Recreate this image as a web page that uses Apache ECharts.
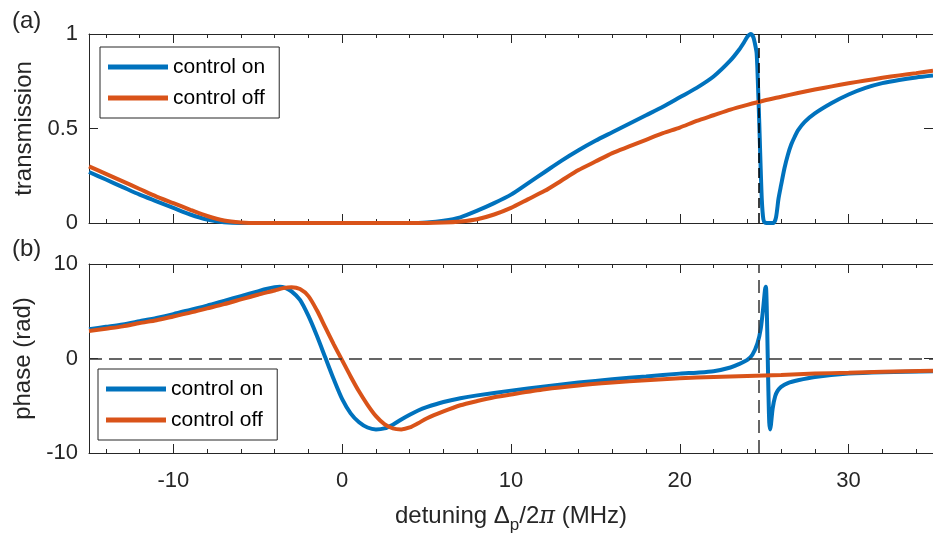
<!DOCTYPE html>
<html>
<head>
<meta charset="utf-8">
<script src="https://cdn.jsdelivr.net/npm/echarts@6.0.0/dist/echarts.min.js"></script>
<style>
  html, body { margin: 0; padding: 0; background: #fff; }
  #chart { width: 933px; height: 545px; }
</style>
</head>
<body>
<div id="chart"></div>
<script>
// values (detuning in MHz)
const transOnX = [-15, -14, -13, -12, -11, -10, -9, -8, -7, -6, -4, -2, 0, 2, 4, 5, 6, 7, 8, 9, 10, 11, 12, 13, 14, 15, 16, 17, 18, 19, 20, 21, 22, 23, 23.5, 23.8, 24.0, 24.2, 24.35, 24.45, 24.55, 24.62, 24.7, 24.78, 24.86, 24.95, 25.05, 25.3, 25.55, 25.7, 25.85, 26.0, 26.2, 26.4, 26.6, 26.8, 27.0, 27.4, 28, 29, 30, 31, 32, 33, 34, 35];
const transOnY = [0.27, 0.23, 0.19, 0.15, 0.115, 0.08, 0.045, 0.018, 0.004, 0, 0, 0, 0, 0, 0, 0.003, 0.012, 0.03, 0.065, 0.105, 0.15, 0.21, 0.27, 0.33, 0.385, 0.435, 0.48, 0.525, 0.57, 0.615, 0.665, 0.715, 0.775, 0.86, 0.915, 0.955, 0.985, 1.0, 0.985, 0.95, 0.9, 0.76, 0.55, 0.32, 0.12, 0.02, 0.002, 0, 0, 0.03, 0.13, 0.2, 0.29, 0.36, 0.415, 0.455, 0.49, 0.535, 0.58, 0.635, 0.68, 0.715, 0.74, 0.757, 0.77, 0.78];

const transOffX = [-15, -14, -13, -12, -11, -10, -9, -8, -7, -6, -5, 0, 5, 6, 7, 8, 9, 10, 11, 12, 13, 14, 15, 16, 17, 18, 19, 20, 21, 22, 23, 24, 25, 26, 27, 28, 29, 30, 31, 32, 33, 34, 35];
const transOffY = [0.30, 0.26, 0.22, 0.18, 0.14, 0.105, 0.07, 0.037, 0.013, 0.003, 0, 0, 0, 0.002, 0.008, 0.02, 0.045, 0.08, 0.125, 0.17, 0.225, 0.28, 0.325, 0.37, 0.405, 0.44, 0.475, 0.505, 0.54, 0.57, 0.6, 0.625, 0.648, 0.668, 0.688, 0.706, 0.723, 0.739, 0.754, 0.768, 0.781, 0.793, 0.805];

const phaseOnX = [-15, -14, -13, -12, -11, -10, -9, -8, -7, -6, -5, -4.5, -4, -3.7, -3.4, -3, -2.5, -2, -1.5, -1, -0.5, 0, 0.5, 1, 1.5, 2, 2.5, 3, 3.5, 4, 4.5, 5, 6, 7, 8, 10, 12, 14, 16, 18, 20, 21, 22, 23, 23.5, 24, 24.3, 24.6, 24.8, 24.95, 25.05, 25.1, 25.15, 25.2, 25.25, 25.3, 25.35, 25.4, 25.5, 25.65, 25.8, 26, 26.4, 27, 28, 30, 32, 35];
const phaseOnY = [3.1, 3.35, 3.6, 3.95, 4.3, 4.7, 5.15, 5.6, 6.1, 6.6, 7.1, 7.35, 7.55, 7.6, 7.5, 7.1, 6.2, 4.5, 2.4, 0.1, -2.2, -4.3, -5.8, -6.75, -7.3, -7.5, -7.4, -7.0, -6.45, -5.95, -5.5, -5.15, -4.6, -4.2, -3.9, -3.4, -2.95, -2.55, -2.2, -1.9, -1.6, -1.5, -1.35, -0.95, -0.6, -0.15, 0.4, 1.6, 3.2, 5.5, 7.3, 7.6, 5.5, 1.0, -3.5, -6.8, -7.5, -7.0, -5.3, -4.0, -3.4, -3.0, -2.6, -2.3, -1.95, -1.6, -1.45, -1.35];

const phaseOffX = [-15, -14, -13, -12, -11, -10, -9, -8, -7, -6, -5, -4, -3.5, -3, -2.5, -2, -1.5, -1, -0.5, 0, 0.5, 1, 1.5, 2, 2.5, 3, 3.5, 4, 4.5, 5, 6, 7, 8, 9, 10, 12, 14, 16, 18, 20, 22, 24, 26, 28, 30, 32, 35];
const phaseOffY = [2.9, 3.15, 3.4, 3.75, 4.05, 4.45, 4.85, 5.3, 5.75, 6.25, 6.75, 7.2, 7.45, 7.55, 7.35, 6.6, 5.1, 3.3, 1.5, -0.2, -1.9, -3.5, -4.9, -6.1, -6.95, -7.4, -7.5, -7.3, -6.85, -6.35, -5.6, -4.95, -4.5, -4.1, -3.8, -3.25, -2.85, -2.55, -2.3, -2.1, -1.95, -1.85, -1.75, -1.6, -1.5, -1.4, -1.3];

const resonanceX = 24.7;   // vertical dashed marker
const seriesNames = ['control on', 'control off'];

const BLUE = '#0072BD';
const ORANGE = '#D95319';
const AXIS = '#262626';
const FONT = '"Liberation Sans", Arial, Helvetica, sans-serif';

const zip = (xs, ys) => xs.map((x, i) => [x, ys[i]]);

function xAxisFor(gridIndex, position, showLabels) {
    return {
        type: 'value', gridIndex, position, min: -15, max: 35, splitNumber: 5,
        axisLine: { show: true, onZero: false, lineStyle: { color: AXIS, width: 1 } },
        axisTick: { show: true, inside: true, length: 9, lineStyle: { color: AXIS } },
        minorTick: { show: true, splitNumber: 5, length: 4, lineStyle: { color: AXIS } },
        axisLabel: {
            show: showLabels, color: AXIS, fontSize: 22, fontFamily: FONT, margin: 17,
            showMinLabel: false, showMaxLabel: false,
            formatter: v => (v % 10 === 0 ? String(v) : '')
        },
        splitLine: { show: false }
    };
}

function yAxisFor(gridIndex, position, min, max, interval, showLabels) {
    return {
        type: 'value', gridIndex, position, min, max, interval,
        axisLine: { show: true, onZero: false, lineStyle: { color: AXIS, width: 1 } },
        axisTick: { show: true, inside: true, length: 9, lineStyle: { color: AXIS } },
        axisLabel: { show: showLabels, color: AXIS, fontSize: 22, fontFamily: FONT, margin: 11 },
        splitLine: { show: false }
    };
}

function legendAt(left, top) {
    return {
        data: seriesNames, left, top, orient: 'vertical',
        icon: 'rect', itemWidth: 60, itemHeight: 5, itemGap: 9,
        padding: [9, 14, 9, 8],
        borderColor: AXIS, borderWidth: 1, backgroundColor: '#fff',
        textStyle: { color: '#000', fontSize: 21, fontFamily: FONT, lineHeight: 22 },
        selectedMode: false
    };
}

const xTop = xAxisFor(0, 'bottom', false);
const xTopMirror = xAxisFor(0, 'top', false);
const xBottom = xAxisFor(1, 'bottom', true);
xBottom.name = 'detuning Δ{s|p}/2{pi|π} (MHz)';
xBottom.nameLocation = 'middle';
xBottom.nameGap = 46;
xBottom.nameTextStyle = {
    color: AXIS, fontSize: 24, fontFamily: FONT,
    rich: {
        s: { fontSize: 17, fontFamily: FONT, color: AXIS, padding: [18, 0, 0, 0] },
        pi: { fontSize: 24, fontFamily: '"DejaVu Serif", serif', fontStyle: 'italic', color: AXIS }
    }
};
const xBottomMirror = xAxisFor(1, 'top', false);

const yTop = yAxisFor(0, 'left', 0, 1, 0.5, true);
yTop.name = 'transmission';
const yTopMirror = yAxisFor(0, 'right', 0, 1, 0.5, false);
const yBottom = yAxisFor(1, 'left', -10, 10, 10, true);
yBottom.name = 'phase (rad)';
const yBottomMirror = yAxisFor(1, 'right', -10, 10, 10, false);
[yTop, yBottom].forEach(a => {
    a.nameLocation = 'middle';
    a.nameGap = 50;
    a.nameTextStyle = { color: AXIS, fontSize: 24, fontFamily: FONT };
});

function curve(name, color, data, xi, yi, z) {
    return {
        name, type: 'line', data, xAxisIndex: xi, yAxisIndex: yi,
        showSymbol: false, smooth: 0.25, z,
        lineStyle: { color, width: 4 }, itemStyle: { color },
        emphasis: { disabled: true }
    };
}

function guide(xi, yi, lines, color, dash, z) {
    return {
        name: 'guide', type: 'line', data: [[resonanceX, 0]], xAxisIndex: xi, yAxisIndex: yi,
        showSymbol: false, z, silent: true,
        lineStyle: { opacity: 0 },
        markLine: {
            silent: true, symbol: 'none', label: { show: false },
            lineStyle: { color, type: dash, width: 1.5 },
            data: lines
        }
    };
}

const chart = echarts.init(document.getElementById('chart'));
chart.setOption({
    animation: false,
    backgroundColor: '#fff',
    grid: [
        { left: 89, top: 34, width: 848, height: 189 },
        { left: 89, top: 264, width: 848, height: 189 }
    ],
    xAxis: [xTop, xTopMirror, xBottom, xBottomMirror],
    yAxis: [yTop, yTopMirror, yBottom, yBottomMirror],
    legend: [legendAt(100, 47), legendAt(98, 369)],
    graphic: [
        { type: 'text', left: 12, top: 9, style: { text: '(a)', fontSize: 24, fontFamily: FONT, fill: AXIS } },
        { type: 'text', left: 12, top: 237, style: { text: '(b)', fontSize: 24, fontFamily: FONT, fill: AXIS } }
    ],
    series: [
        curve(seriesNames[0], BLUE, zip(transOnX, transOnY), 0, 0, 3),
        curve(seriesNames[1], ORANGE, zip(transOffX, transOffY), 0, 0, 4),
        guide(0, 0, [{ xAxis: resonanceX }], '#000', [10, 5], 6),
        guide(2, 2, [{ xAxis: resonanceX }, { yAxis: 0 }], '#333', [13, 7], 1),
        curve(seriesNames[0], BLUE, zip(phaseOnX, phaseOnY), 2, 2, 3),
        curve(seriesNames[1], ORANGE, zip(phaseOffX, phaseOffY), 2, 2, 4)
    ]
});
</script>
</body>
</html>
